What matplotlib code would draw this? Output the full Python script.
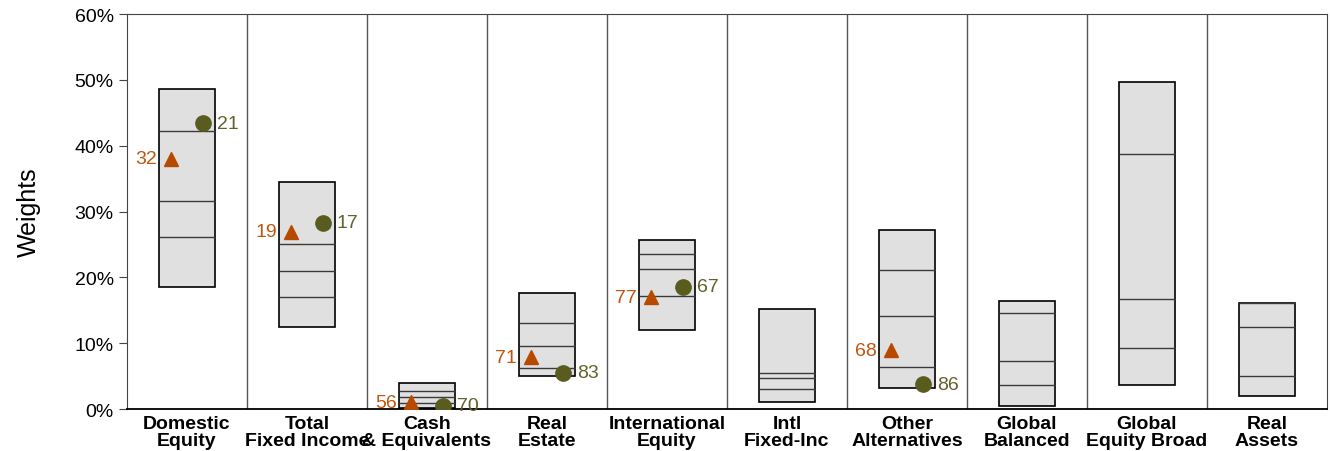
import numpy as np
import matplotlib
matplotlib.use('Agg')
import matplotlib.pyplot as plt
from matplotlib.ticker import FuncFormatter

plt.rcParams['font.family'] = ['Liberation Sans', 'DejaVu Sans']

categories = ["Domestic\nEquity", "Total\nFixed Income", "Cash\n& Equivalents", "Real\nEstate",
              "International\nEquity", "Intl\nFixed-Inc", "Other\nAlternatives", "Global\nBalanced",
              "Global\nEquity Broad", "Real\nAssets"]

# box ranges and percentile lines (weights, %)
w_max = [48.6, 34.5, 3.9, 17.6, 25.6, 15.2, 27.2, 16.4, 49.6, 16.15]
w_q75 = [42.2, 25.0, 2.7, 13.0, 23.5, 5.5, 21.1, 14.6, 38.7, 16.1]
w_q50 = [31.6, 21.0, 1.8, 9.5, 21.2, 4.65, 14.1, 7.3, 16.75, 12.45]
w_q25 = [26.2, 17.0, 0.96, 6.3, 17.1, 3.0, 6.4, 3.6, 9.2, 5.0]
w_min = [18.6, 12.4, 0.1, 5.05, 12.0, 1.0, 3.25, 0.5, 3.7, 2.0]

# orange triangles with rank labels
tri_vals = [38.0, 26.9, 1.0, 7.9, 17.0, np.nan, 8.9, np.nan, np.nan, np.nan]
tri_rank = [32, 19, 56, 71, 77, None, 68, None, None, None]
# olive circles with rank labels
dot_vals = [43.4, 28.3, 0.5, 5.5, 18.6, np.nan, 3.75, np.nan, np.nan, np.nan]
dot_rank = [21, 17, 70, 83, 67, None, 86, None, None, None]

orange = '#B84A00'
olive = '#595B1F'

fig = plt.figure(figsize=(13.3, 4.52), dpi=100)
ax = fig.add_axes([0.0955, 0.0929, 0.9022, 0.8739])

n = len(categories)
x = np.arange(n) + 0.5
bw = 0.46

for i in range(n):
  ax.bar(x[i], w_max[i] - w_min[i], bottom=w_min[i], width=bw, color='#E0E0E0',
         edgecolor='black', linewidth=1.2, zorder=2)
  for q in (w_q75[i], w_q50[i], w_q25[i]):
    ax.hlines(q, x[i] - bw/2, x[i] + bw/2, color='#3a3a3a', linewidth=1.0, zorder=3)

for b in range(1, n):
  ax.axvline(b, color='#555555', linewidth=1.0, zorder=1)

ax.plot(x - 0.133, tri_vals, linestyle='none', marker='^', markersize=9.5, color=orange, zorder=4)
ax.plot(x + 0.133, dot_vals, linestyle='none', marker='o', markersize=11, color=olive, zorder=4)

for i in range(n):
  if tri_rank[i] is not None:
    ax.annotate(str(tri_rank[i]), (x[i] - 0.133, tri_vals[i]), xytext=(-10, 0),
                textcoords='offset points', ha='right', va='center', fontsize=14, color='#C0560F', zorder=5)
  if dot_rank[i] is not None:
    ax.annotate(str(dot_rank[i]), (x[i] + 0.133, dot_vals[i]), xytext=(10, 0),
                textcoords='offset points', ha='left', va='center', fontsize=14, color='#61632A', zorder=5)

ax.set_xlim(0, n)
ax.set_ylim(0, 60)
ax.set_yticks(np.arange(0, 61, 10))
ax.yaxis.set_major_formatter(FuncFormatter(lambda v, p: f"{v:.0f}%"))
ax.tick_params(axis='y', labelsize=14, length=6, direction='out', color='#444444')
ax.set_xticks(x)
ax.set_xticklabels(categories, fontsize=14, fontweight='bold', linespacing=1.0)
ax.tick_params(axis='x', length=0, pad=4)
ax.set_ylabel("Weights", fontsize=18, labelpad=24)

for s in ('left', 'top', 'right'):
  ax.spines[s].set_color('#444444')
ax.spines['bottom'].set_color('black')
ax.spines['bottom'].set_linewidth(1.3)

fig.savefig("out.png", dpi=100)
